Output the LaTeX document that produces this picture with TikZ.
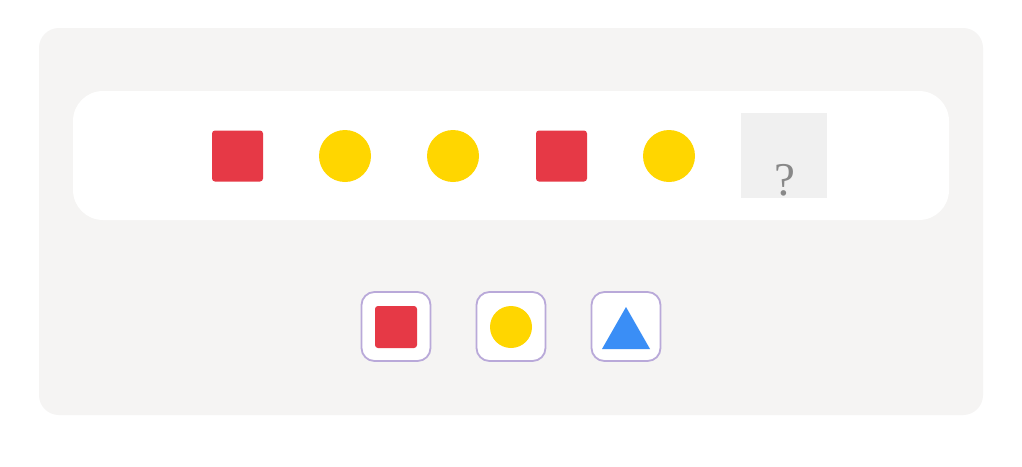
\documentclass[tikz,border=0pt]{standalone}
\usepackage{tikz}
\usepackage{fontspec}
\newfontfamily\qfont{Liberation Serif}
\definecolor{panelbg}{HTML}{F5F4F3}
\definecolor{redsq}{HTML}{E63946}
\definecolor{goldc}{HTML}{FFD600}
\definecolor{bluet}{HTML}{3A8EF6}
\definecolor{optborder}{HTML}{B9A9D9}
\definecolor{qbox}{HTML}{F0F0F0}
\definecolor{qtext}{HTML}{888888}
\tikzset{
  redbox/.style={fill=redsq, draw=none, rounded corners=3pt, minimum size=51pt, inner sep=0pt},
  goldcirc/.style={circle, fill=goldc, draw=none, minimum size=52pt, inner sep=0pt},
  optbox/.style={draw=optborder, line width=1.8pt, fill=white, rounded corners=13pt, minimum size=69pt, inner sep=0pt},
  smallred/.style={fill=redsq, draw=none, rounded corners=3pt, minimum size=42pt, inner sep=0pt},
  smallgold/.style={circle, fill=goldc, draw=none, minimum size=42pt, inner sep=0pt},
}
\begin{document}
\begin{tikzpicture}[x=1pt,y=-1pt]
\useasboundingbox (0,0) rectangle (1022,466);
\fill[white] (0,0) rectangle (1022,466);
\fill[panelbg, rounded corners=20pt] (39,28) rectangle (983,415);
\fill[white, rounded corners=30pt] (73,91) rectangle (949,220);
% sequence
\node[redbox] (s1) at (237.5,156) {};
\node[goldcirc] (s2) at (345,156) {};
\node[goldcirc] (s3) at (453,156) {};
\node[redbox] (s4) at (561.5,156) {};
\node[goldcirc] (s5) at (669,156) {};
\node[fill=qbox, minimum width=86pt, minimum height=85pt, inner sep=0pt] (q) at (784,155.5) {};
\node[anchor=base, text=qtext, font=\qfont\fontsize{47}{47}\selectfont, inner sep=0pt] (qm) at (785,195) {?};
% options
\node[optbox] (o1) at (396,326.5) {};
\node[smallred] (o1s) at (396,327) {};
\node[optbox] (o2) at (511,326.5) {};
\node[smallgold] (o2s) at (511,327) {};
\node[optbox] (o3) at (626,326.5) {};
\fill[bluet] (626,307) -- (650,349) -- (602,349) -- cycle;
\end{tikzpicture}
\end{document}
